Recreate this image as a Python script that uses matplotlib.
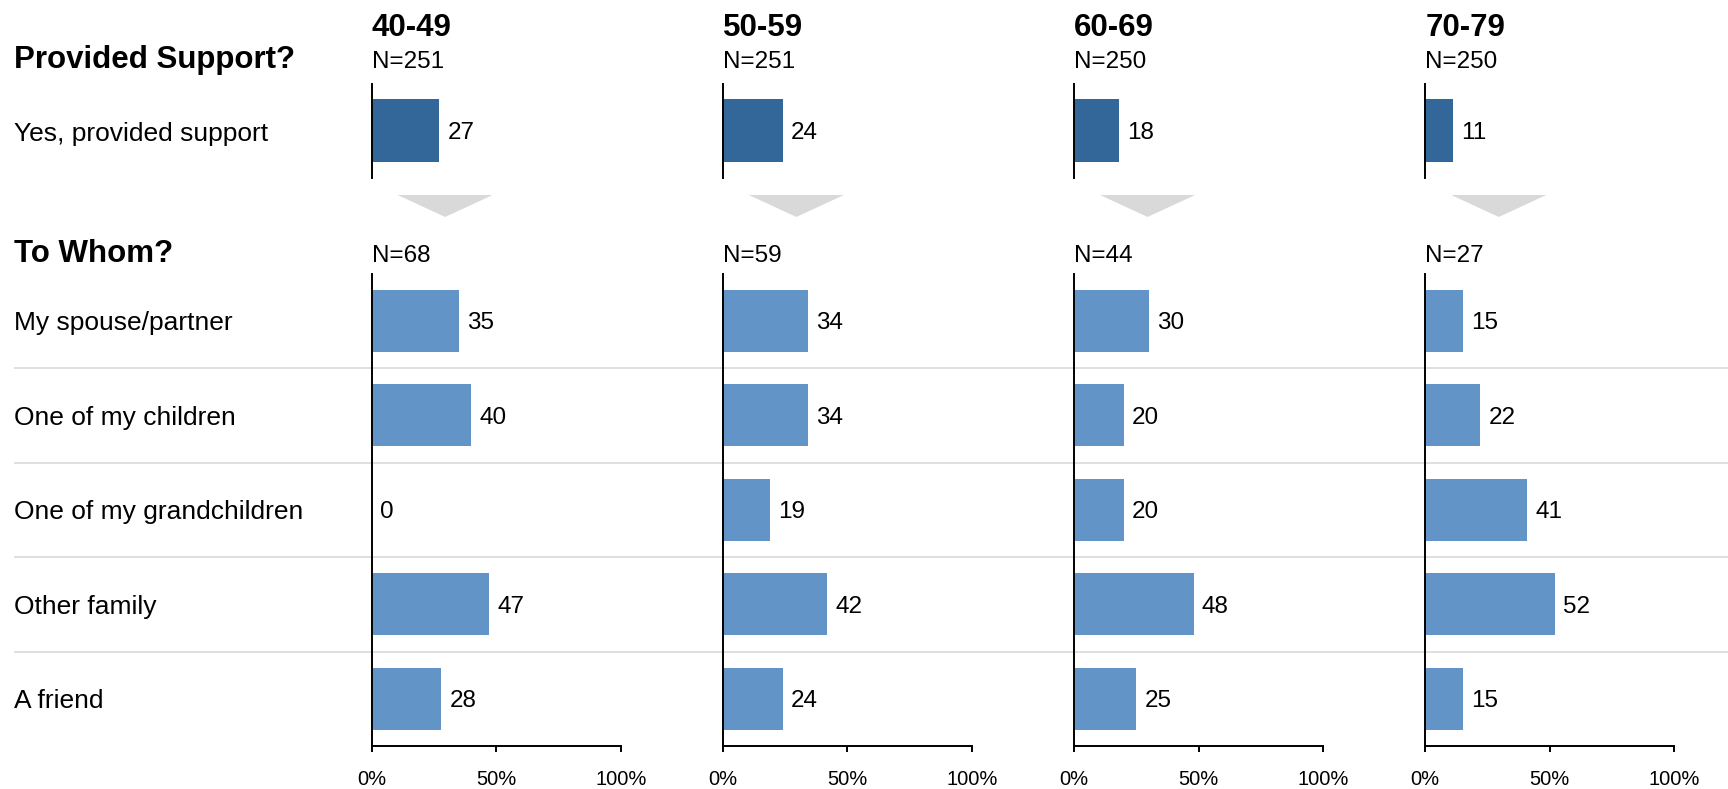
import numpy as np
import matplotlib
matplotlib.use('Agg')
from matplotlib import pyplot as plt
from matplotlib import transforms
from matplotlib.patches import Polygon
from matplotlib.lines import Line2D

# DATA
age_groups = ['40-49', '50-59', '60-69', '70-79']
n_support = [251, 251, 250, 250]
n_whom = [68, 59, 44, 27]
support_label = 'Yes, provided support'
support_vals = [27, 24, 18, 11]
whom_labels = ['My spouse/partner', 'One of my children', 'One of my grandchildren',
               'Other family', 'A friend']
whom_vals = [[35, 40, 0, 47, 28],
             [34, 34, 19, 42, 24],
             [30, 20, 20, 48, 25],
             [15, 22, 41, 52, 15]]
xticks = [0, 50, 100]
xticklabels = ['0%', '50%', '100%']
# END DATA

plt.rcParams['font.family'] = ['Liberation Sans', 'DejaVu Sans']

W, H = 1728, 789
DPI = 100
DARK = '#336699'
LIGHT = '#6394C8'
GREY = '#D9D9D9'


def fx(px):
    return px / float(W)


def fy(py):
    # pixel row from top -> figure fraction from bottom
    return (H - py) / float(H)


def add_value(ax, val, y):
    ax.annotate('%d' % val, xy=(val, y), xytext=(6, 0), textcoords='offset points',
                ha='left', va='center_baseline', fontsize=17.5, color='k')


fig = plt.figure(figsize=(W / float(DPI), H / float(DPI)), dpi=DPI)

left0 = 371.7
step = 351.2
width = 249.

top_y0, top_y1 = 83.5, 177.5
bot_y0, bot_y1 = 273.5, 746.

bot_axes = []
for i, grp in enumerate(age_groups):
    x0 = left0 + i * step

    # --- upper panel: provided support
    ax1 = fig.add_axes([fx(x0), fy(top_y1), fx(width), (top_y1 - top_y0) / H])
    ax1.barh([0], [support_vals[i]], height=0.66, color=DARK)
    add_value(ax1, support_vals[i], 0)
    ax1.set_xlim(0, 100)
    ax1.set_ylim(0.5, -0.5)
    for s in ['top', 'right', 'bottom']:
        ax1.spines[s].set_visible(False)
    ax1.spines['left'].set_linewidth(1.4)
    ax1.set_xticks([])
    ax1.set_yticks([])
    ax1.patch.set_visible(False)

    ax1.annotate(grp, xy=(0, H - 36), xycoords=('axes fraction', 'figure pixels'),
                 ha='left', va='baseline', fontsize=22.5, fontweight='bold')
    ax1.annotate('N=%d' % n_support[i], xy=(0, H - 68),
                 xycoords=('axes fraction', 'figure pixels'),
                 ha='left', va='baseline', fontsize=17.5)

    # grey triangle pointing down to the lower panel (y axis inverted)
    tri = Polygon([[10.4, 0.686], [48.6, 0.686], [29.5, 0.92]], closed=True,
                  facecolor=GREY, edgecolor='none', clip_on=False)
    ax1.add_patch(tri)

    # --- lower panel: to whom
    ax2 = fig.add_axes([fx(x0), fy(bot_y1), fx(width), (bot_y1 - bot_y0) / H])
    rows = np.arange(len(whom_labels))
    ax2.barh(rows, whom_vals[i], height=0.66, color=LIGHT)
    for r, v in zip(rows, whom_vals[i]):
        add_value(ax2, v, r)
    ax2.set_xlim(0, 100)
    ax2.set_ylim(len(whom_labels) - 0.5, -0.5)
    ax2.spines['top'].set_visible(False)
    ax2.spines['right'].set_visible(False)
    ax2.spines['left'].set_linewidth(1.4)
    ax2.spines['bottom'].set_linewidth(1.4)
    ax2.set_yticks([])
    ax2.set_xticks(xticks)
    ax2.set_xticklabels(xticklabels)
    ax2.tick_params(axis='x', direction='out', length=4.5, width=1.4,
                    labelsize=14.5, pad=12.5)
    ax2.patch.set_visible(False)

    ax2.annotate('N=%d' % n_whom[i], xy=(0, H - 262),
                 xycoords=('axes fraction', 'figure pixels'),
                 ha='left', va='baseline', fontsize=17.5)
    bot_axes.append(ax2)

# row labels on the left
axb = bot_axes[0]
trb = transforms.blended_transform_factory(fig.transFigure, axb.transData)
for r, lab in enumerate(whom_labels):
    fig.text(fx(14), r, lab, transform=trb, ha='left', va='center_baseline',
             fontsize=19)

# separators between rows, across the whole width
for r in range(len(whom_labels) - 1):
    fig.lines.append(Line2D([fx(15), 1.0], [r + 0.5, r + 0.5], transform=trb,
                            color=GREY, linewidth=1.2, zorder=-1))

fig.text(fx(14), fy(131), support_label, ha='left', va='center_baseline', fontsize=19)
fig.text(fx(14), fy(68), 'Provided Support?', ha='left', va='baseline',
         fontsize=22.5, fontweight='bold')
fig.text(fx(14), fy(262), 'To Whom?', ha='left', va='baseline',
         fontsize=22.5, fontweight='bold')

fig.savefig('out.png', dpi=DPI)
